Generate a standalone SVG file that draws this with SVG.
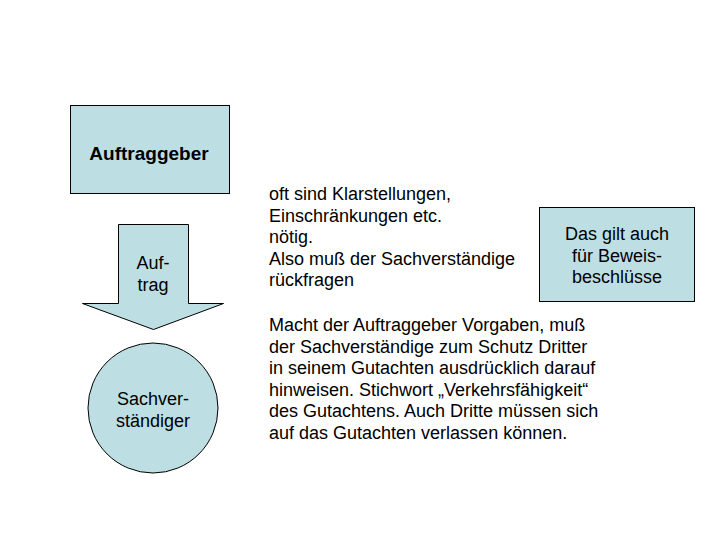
<svg xmlns="http://www.w3.org/2000/svg" width="720" height="540" viewBox="0 0 720 540">
<style>
.shape{fill:#bddfe4;stroke:#000;stroke-width:1}
text{font-family:"Liberation Sans",Arial,sans-serif;font-size:18px;fill:#000}
.c{text-anchor:middle}
.b{font-weight:bold;font-size:19px}
</style>
<rect width="720" height="540" fill="#fff"/>
<g id="auftraggeber">
<rect class="shape" x="70.5" y="105.5" width="159" height="88"/>
<text class="c b" x="149" y="160">Auftraggeber</text>
</g>
<g id="connectors">
<g id="auftrag">
<path class="shape" d="M118.5,224.5 H188.5 V303.5 H223.5 L153.5,329.5 L82.5,303.5 H118.5 Z"/>
<text class="c" x="153" y="269">Auf-</text>
<text class="c" x="153" y="291">trag</text>
</g>
</g>
<g id="sachverstaendiger">
<circle class="shape" cx="153" cy="408" r="65"/>
<text class="c" x="153" y="405">Sachver-</text>
<text class="c" x="153" y="427">ständiger</text>
</g>
<g id="note1">
<text x="269" y="200">oft sind Klarstellungen,</text>
<text x="269" y="221.5">Einschränkungen etc.</text>
<text x="269" y="243">nötig.</text>
<text x="269" y="264.5">Also muß der Sachverständige</text>
<text x="269" y="286">rückfragen</text>
</g>
<g id="beweis">
<rect class="shape" x="539.5" y="207.5" width="155" height="94"/>
<text class="c" x="617" y="240">Das gilt auch</text>
<text class="c" x="617" y="261.5">für Beweis-</text>
<text class="c" x="617" y="283">beschlüsse</text>
</g>
<g id="note2">
<text x="269" y="331">Macht der Auftraggeber Vorgaben, muß</text>
<text x="269" y="352.5">der Sachverständige zum Schutz Dritter</text>
<text x="269" y="374">in seinem Gutachten ausdrücklich darauf</text>
<text x="269" y="395.5">hinweisen. Stichwort „Verkehrsfähigkeit“</text>
<text x="269" y="417">des Gutachtens. Auch Dritte müssen sich</text>
<text x="269" y="438.5">auf das Gutachten verlassen können.</text>
</g>
</svg>
